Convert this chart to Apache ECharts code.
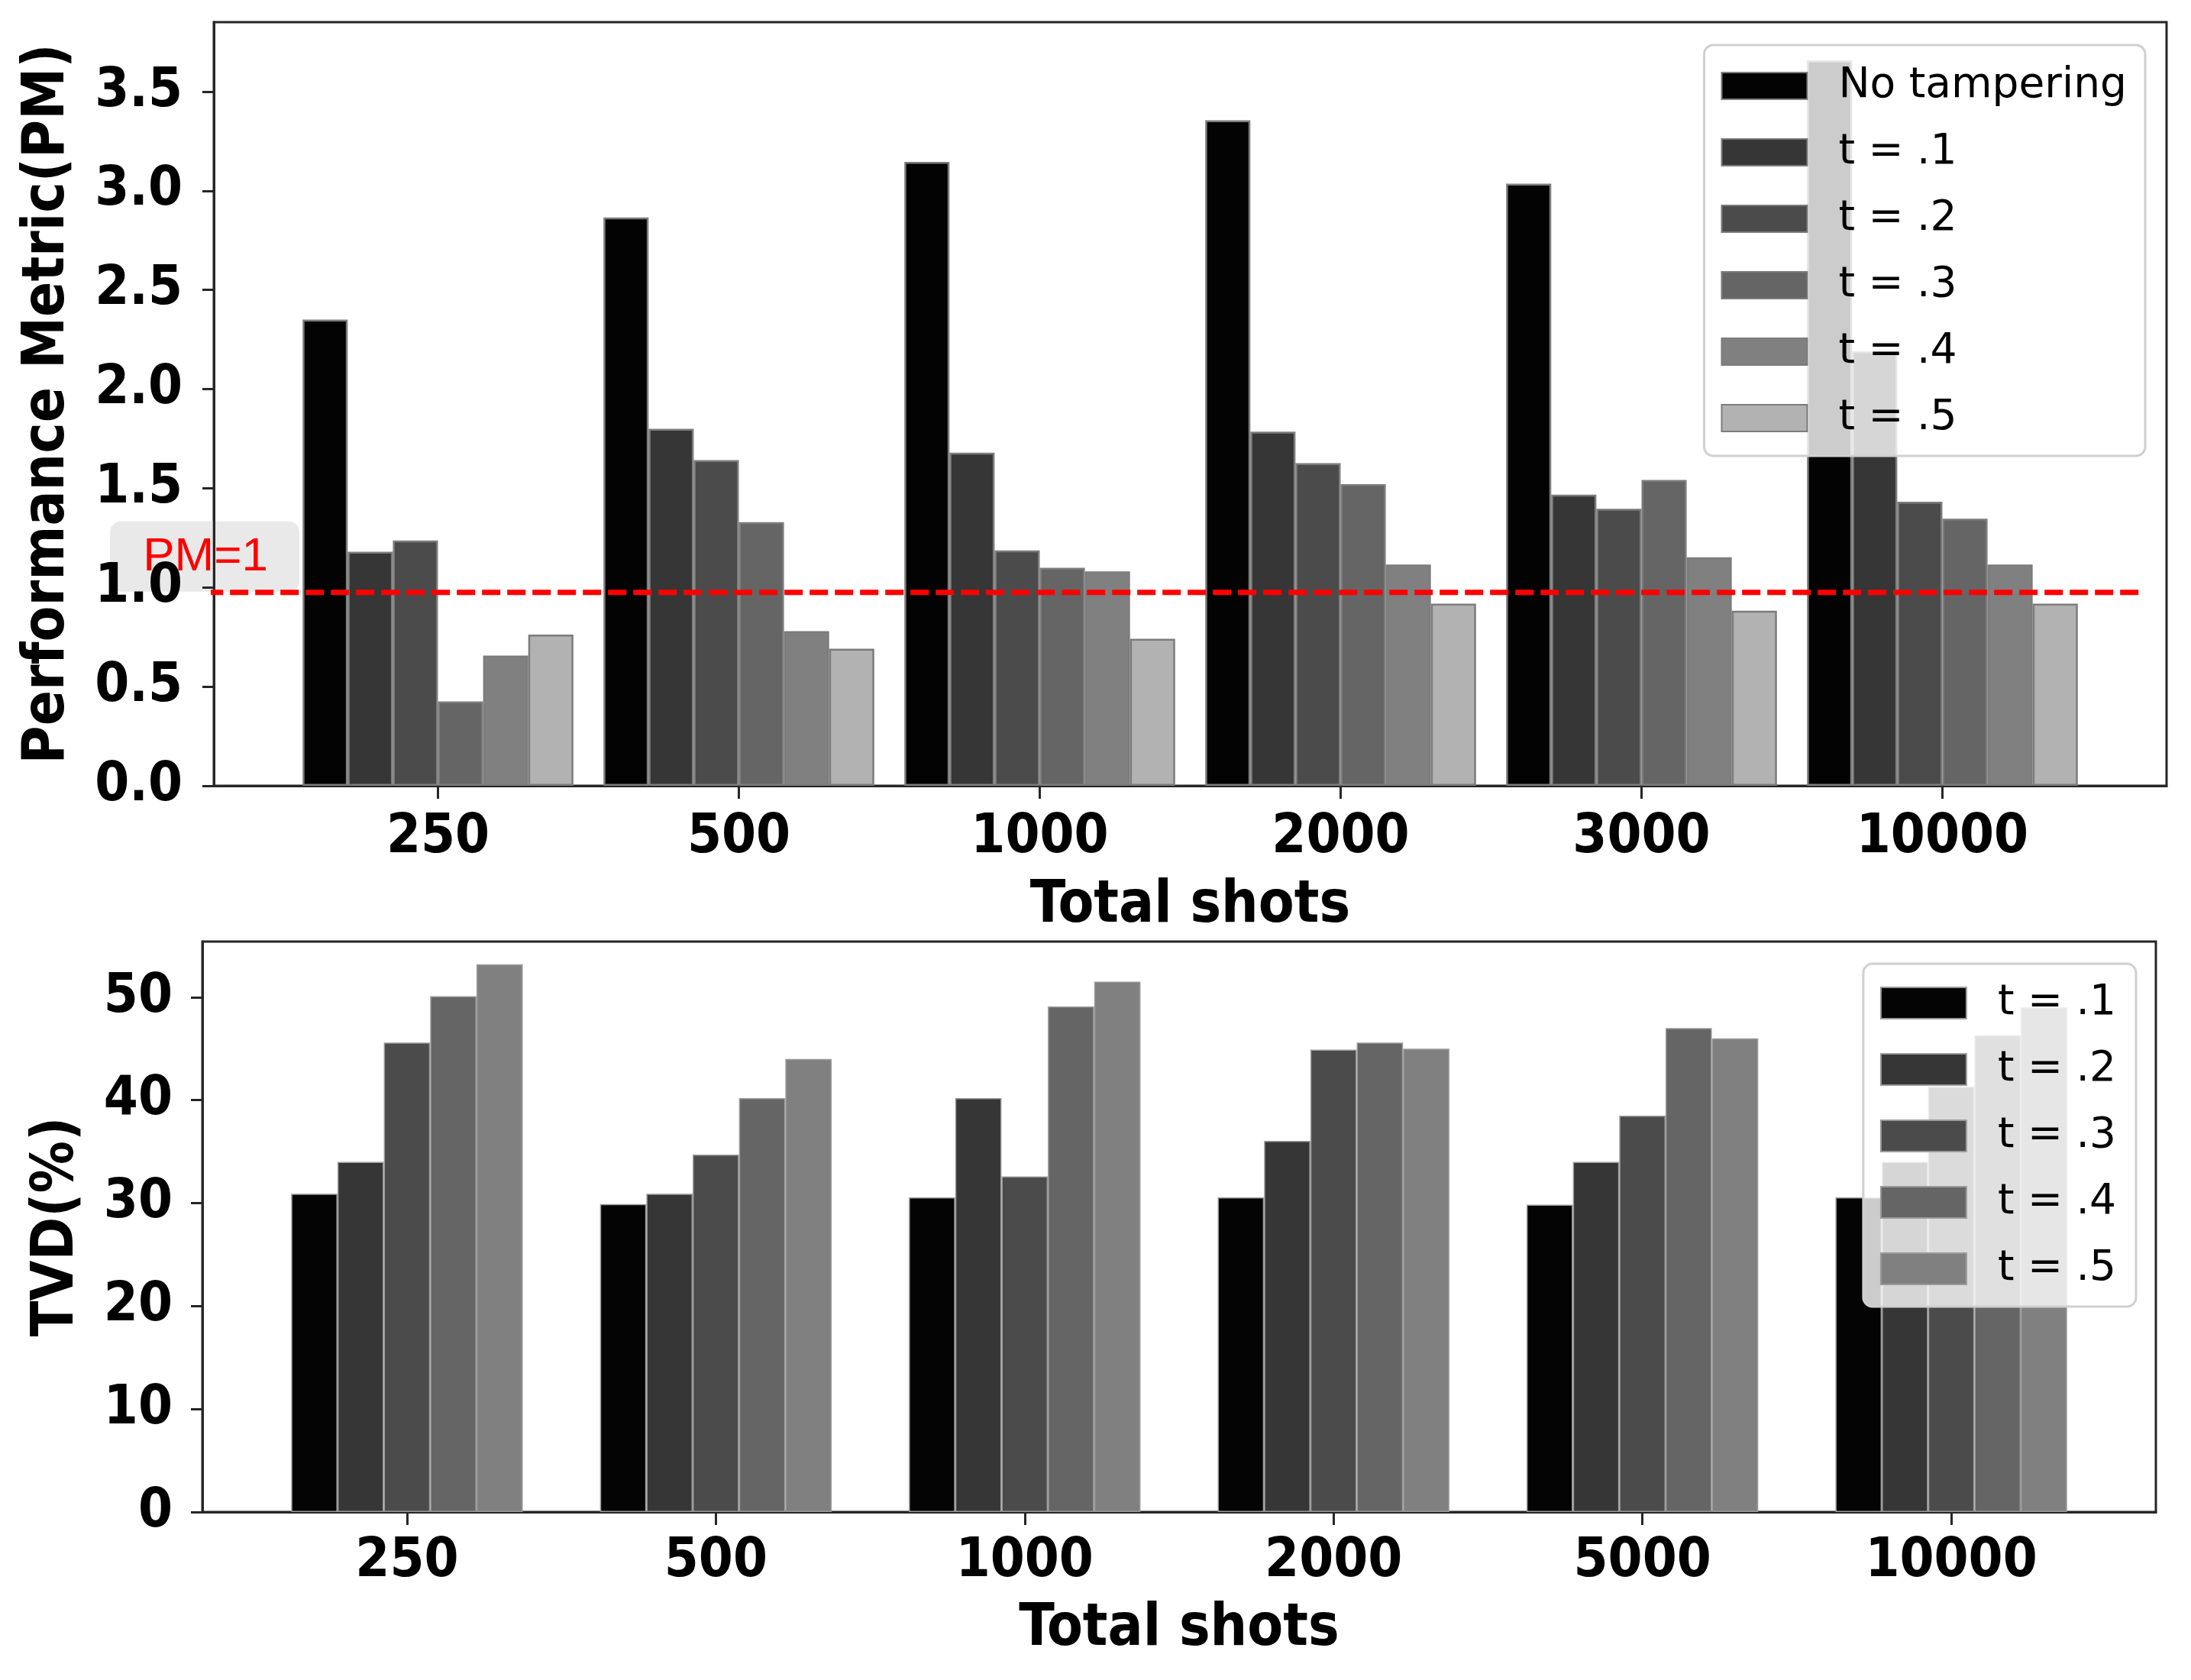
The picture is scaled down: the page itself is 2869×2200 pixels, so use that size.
<!DOCTYPE html>
<html>
<head>
<meta charset="utf-8">
<title>Performance metric and TVD vs total shots</title>
<script src="https://cdn.jsdelivr.net/npm/echarts@6/dist/echarts.min.js"></script>
<style>
  html, body { margin: 0; padding: 0; background: #fff; }
  #chart { width: 2869px; height: 2200px; }
</style>
</head>
<body>
<div id="chart"></div>
<script>
  // top panel - performance metric
  const pmShots = ['250', '500', '1000', '2000', '3000', '10000']
  const pmNames = ['No tampering', 't = .1', 't = .2', 't = .3', 't = .4', 't = .5']
  const pmNoTamper = [2.35, 2.865, 3.145, 3.355, 3.036, 3.657]
  const pmT1 = [1.18, 1.80, 1.68, 1.785, 1.468, 2.19]
  const pmT2 = [1.237, 1.642, 1.187, 1.627, 1.397, 1.432]
  const pmT3 = [0.425, 1.329, 1.099, 1.521, 1.542, 1.347]
  const pmT4 = [0.656, 0.78, 1.081, 1.116, 1.152, 1.116]
  const pmT5 = [0.762, 0.691, 0.741, 0.918, 0.883, 0.918]
  const pmTicks = [0, 0.5, 1, 1.5, 2, 2.5, 3, 3.5]
  const pmLine = 0.975
  const pmLineSpan = [-0.775, 5.674]

  // bottom panel - TVD
  const tvdShots = ['250', '500', '1000', '2000', '5000', '10000']
  const tvdNames = ['t = .1', 't = .2', 't = .3', 't = .4', 't = .5']
  const tvdT1 = [30.9, 29.9, 30.55, 30.55, 29.85, 30.55]
  const tvdT2 = [34.0, 30.9, 40.2, 36.05, 34.0, 34.0]
  const tvdT3 = [45.6, 34.7, 32.6, 44.9, 38.5, 41.3]
  const tvdT4 = [50.1, 40.2, 49.1, 45.6, 47.0, 46.3]
  const tvdT5 = [53.2, 44.0, 51.5, 45.0, 46.0, 49.0]
  const tvdTicks = [0, 10, 20, 30, 40, 50]

  const pmValues = [pmNoTamper, pmT1, pmT2, pmT3, pmT4, pmT5]
  const tvdValues = [tvdT1, tvdT2, tvdT3, tvdT4, tvdT5]
  const pmColors = ['#030303', '#363636', '#4b4b4b', '#656565', '#808080', '#b2b2b2']
  const tvdColors = ['#040404', '#363636', '#4b4b4b', '#656565', '#808080']

  const boldFont = 'DejaVu Sans Condensed'
  const frame = '#262626'

  function xAxisFor(gridIndex, labels, min, max, margin, nameGap) {
    return {
      type: 'value',
      gridIndex: gridIndex,
      min: min,
      max: max,
      name: 'Total shots',
      nameLocation: 'middle',
      nameGap: nameGap,
      nameTextStyle: { fontFamily: boldFont, fontWeight: 'bold', fontSize: 76, color: '#000' },
      axisLine: { onZero: false, lineStyle: { color: frame, width: 3 } },
      axisTick: { length: 17, lineStyle: { color: frame, width: 3 }, customValues: labels.map((s, i) => i) },
      axisLabel: {
        customValues: labels.map((s, i) => i),
        formatter: v => labels[Math.round(v)],
        fontFamily: boldFont, fontWeight: 'bold', fontSize: 72, color: '#000', margin: margin
      },
      splitLine: { show: false }
    }
  }

  function yAxisFor(gridIndex, ticks, max, name, nameGap, margin, digits) {
    return {
      type: 'value',
      gridIndex: gridIndex,
      min: 0,
      max: max,
      name: name,
      nameLocation: 'middle',
      nameGap: nameGap,
      nameTextStyle: { fontFamily: boldFont, fontWeight: 'bold', fontSize: 76, color: '#000' },
      axisLine: { show: true, onZero: false, lineStyle: { color: frame, width: 3 } },
      axisTick: { show: true, length: 15, lineStyle: { color: frame, width: 3 }, customValues: ticks },
      axisLabel: {
        customValues: ticks,
        formatter: v => v.toFixed(digits),
        fontFamily: boldFont, fontWeight: 'bold', fontSize: 72, color: '#000', margin: margin
      },
      splitLine: { show: false }
    }
  }

  function legendFor(names, top, right, itemHeight, padding, stripPrefix) {
    return {
      orient: 'vertical',
      top: top,
      right: right,
      data: names,
      selectedMode: false,
      icon: 'rect',
      itemWidth: 112,
      itemHeight: itemHeight,
      itemGap: 32,
      padding: padding,
      backgroundColor: 'rgba(255,255,255,0.8)',
      borderColor: '#d0d0d0',
      borderWidth: 3,
      borderRadius: 12,
      formatter: name => name.replace(stripPrefix, ''),
      textStyle: { fontFamily: 'DejaVu Sans', fontSize: 55, color: '#000', padding: [0, 0, 0, 36] }
    }
  }

  const series = []
  pmValues.forEach((vals, i) => {
    series.push({
      type: 'bar',
      name: pmNames[i],
      xAxisIndex: 0,
      yAxisIndex: 0,
      data: vals.map((v, k) => [k, v]),
      barWidth: '15%',
      barGap: '0%',
      itemStyle: { color: pmColors[i], borderColor: '#7c7c7c', borderWidth: 2.5 },
      emphasis: { disabled: true }
    })
  })
  // dashed PM = 1 reference line
  series.push({
    type: 'line',
    xAxisIndex: 0,
    yAxisIndex: 0,
    data: pmLineSpan.map(x => [x, pmLine]),
    symbol: 'none',
    clip: false,
    silent: true,
    z: 3,
    lineStyle: { color: '#ff0000', type: [24, 9], width: 7 }
  })
  tvdValues.forEach((vals, i) => {
    series.push({
      type: 'bar',
      name: 'tvd:' + tvdNames[i],
      xAxisIndex: 1,
      yAxisIndex: 1,
      data: vals.map((v, k) => [k, v]),
      barWidth: '15%',
      barGap: '0%',
      itemStyle: { color: tvdColors[i], borderColor: '#9a9a9a', borderWidth: 1.5 },
      emphasis: { disabled: true }
    })
  })

  const chart = echarts.init(document.getElementById('chart'))
  chart.setOption({
    animation: false,
    backgroundColor: '#fff',
    grid: [
      { left: 280, right: 32, top: 29, bottom: 1171, show: true, borderColor: frame, borderWidth: 3 },
      { left: 265, right: 46, top: 1233, bottom: 220, show: true, borderColor: frame, borderWidth: 3 }
    ],
    xAxis: [
      xAxisFor(0, pmShots, -0.745, 5.745, 32, 120),
      xAxisFor(1, tvdShots, -0.6625, 5.6625, 29, 116)
    ],
    yAxis: [
      yAxisFor(0, pmTicks, 3.85, 'Performance Metric(PM)', 179, 41, 1),
      yAxisFor(1, tvdTicks, 55.4, 'TVD(%)', 152, 39, 0)
    ],
    legend: [
      legendFor(pmNames, 59, 60, 35, [26, 24, 22, 22], ''),
      legendFor(tvdNames.map(n => 'tvd:' + n), 1262, 72, 41, [24, 26, 22, 22], 'tvd:')
    ],
    series: series
  })

  // "PM=1" tag sits just above the left end of the dashed line
  const start = chart.convertToPixel({ xAxisIndex: 0, yAxisIndex: 0 }, [pmLineSpan[0], pmLine])
  chart.setOption({
    graphic: [{
      type: 'group',
      z: 100,
      children: [
        {
          type: 'rect',
          shape: { x: start[0] - 124, y: start[1] - 93, width: 248, height: 92, r: 14 },
          style: { fill: 'rgba(211,211,211,0.5)' }
        },
        {
          type: 'text',
          style: {
            text: 'PM=1',
            x: start[0] - 81,
            y: start[1] - 46,
            verticalAlign: 'middle',
            fill: '#ff0000',
            font: '62px "Liberation Sans", Arial, sans-serif'
          }
        }
      ]
    }]
  })
</script>
</body>
</html>
